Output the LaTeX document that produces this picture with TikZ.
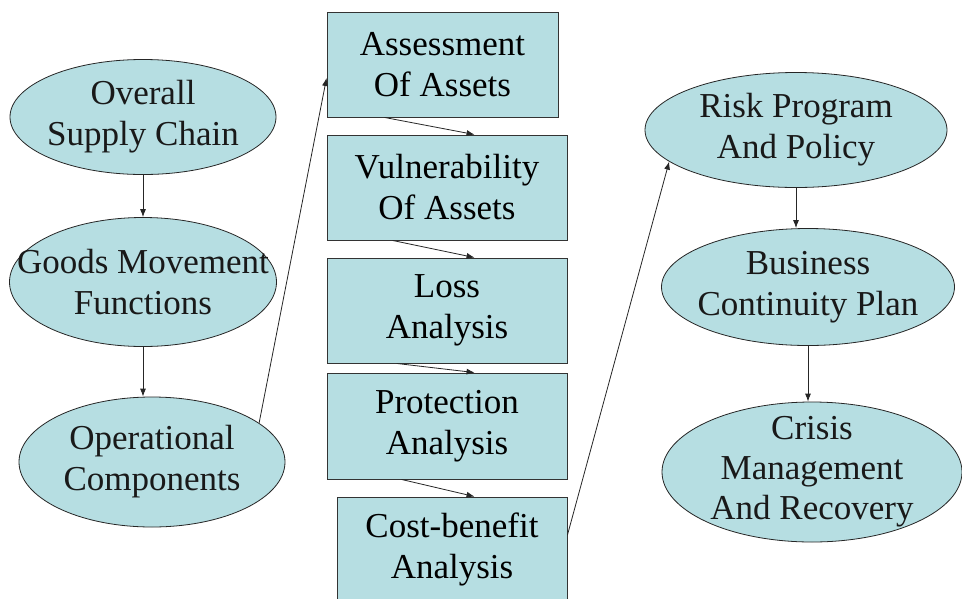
\documentclass[tikz,border=0pt]{standalone}
\usepackage{fontspec}
\setmainfont{Liberation Serif}
\usetikzlibrary{shapes.geometric,arrows.meta,calc}
\definecolor{boxfill}{RGB}{182,222,226}
\begin{document}
\begin{tikzpicture}[x=1pt,y=-1pt,
  every node/.style={font=\fontsize{35}{41}\selectfont, align=center, inner sep=0pt},
  oval/.style={ellipse, draw=black!85, line width=0.8pt, fill=boxfill},
  lbl/.style={text=black!90},
  stepbox/.style={rectangle, draw=black!80, line width=0.9pt, fill=boxfill},
  conn/.style={draw=black!85, line width=0.8pt, -{Latex[length=8pt,width=6pt]}}]
\useasboundingbox (0,0) rectangle (962,598);
\clip (0,0) rectangle (962,598);
\fill[white] (0,0) rectangle (962,598);
% left column
\node[oval, minimum width=266pt, minimum height=115pt] (E1) at (143,117) {};
\node[lbl] (E1t) at (E1.center) {Overall\\Supply Chain};
\node[oval, minimum width=267pt, minimum height=129pt] (E2) at (143,282) {};
\node[lbl] (E2t) at (E2.center) {Goods Movement\\Functions};
\node[oval, minimum width=266pt, minimum height=130pt] (E3) at (152,462) {};
\node[lbl] (E3t) at (E3.center) {Operational\\Components};
% middle column
\node[stepbox, minimum width=231pt, minimum height=105pt] (A) at (442.5,64.5) {Assessment\\Of Assets};
\node[stepbox, minimum width=240pt, minimum height=105pt] (V) at (447,187.5) {Vulnerability\\Of Assets};
\node[stepbox, minimum width=240pt, minimum height=105pt] (L) at (447,310.5) {Loss\\Analysis};
\node[stepbox, minimum width=240pt, minimum height=106pt] (P) at (447,426) {Protection\\Analysis};
\node[stepbox, minimum width=230pt, minimum height=105pt] (C) at (452,549.5) {Cost-benefit\\Analysis};
% right column
\node[oval, minimum width=302pt, minimum height=115pt] (R) at (796,130) {};
\node[lbl] (Rt) at (R.center) {Risk Program\\And Policy};
\node[oval, minimum width=293pt, minimum height=117pt] (B) at (808,287) {};
\node[lbl] (Bt) at (B.center) {Business\\Continuity Plan};
\node[oval, minimum width=300pt, minimum height=140pt] (K) at (812,472) {};
\node[lbl, font=\fontsize{35}{40}\selectfont] (Kt) at (K.center) {Crisis\\Management\\And Recovery};
% connectors
\draw[conn] (E1.south) -- (E2.north);
\draw[conn] (E2.south) -- (E2.south |- E3.north);
\draw[conn] (E3.20.7) -- ([yshift=-13.5pt]A.west);
\draw[conn] ([xshift=58pt]A.south west) -- ([xshift=148pt]V.north west);
\draw[conn] ([xshift=66pt]V.south west) -- ([xshift=148pt]L.north west);
\draw[conn] ([xshift=70pt]L.south west) -- ([xshift=148pt]P.north west);
\draw[conn] ([xshift=75pt]P.south west) -- ([xshift=138pt]C.north west);
\draw[conn] ([yshift=14.5pt]C.east) -- (R.194.5);
\draw[conn] (R.south) -- (R.south |- B.north);
\draw[conn] (B.south) -- (B.south |- K.north);
\end{tikzpicture}
\end{document}
